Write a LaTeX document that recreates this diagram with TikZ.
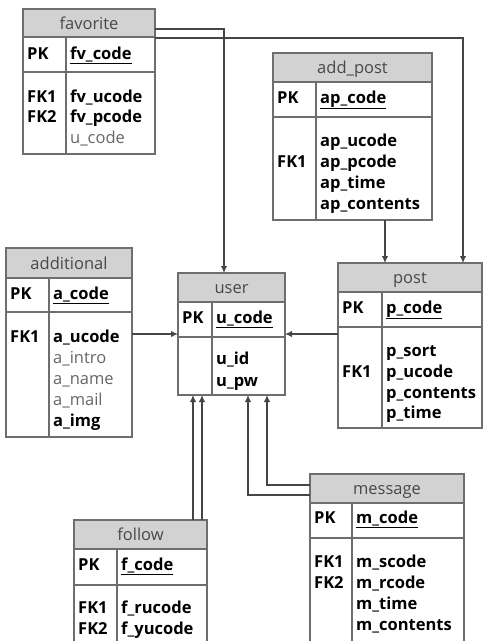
\documentclass[tikz,border=0pt]{standalone}
\usepackage{fontspec}
\setmainfont{Open Sans}
\usetikzlibrary{calc,arrows.meta}

\definecolor{hdrgray}{HTML}{D2D2D2}
\definecolor{framegray}{HTML}{6E6E6E}
\definecolor{titlegray}{HTML}{484848}
\definecolor{optgray}{HTML}{666666}
\definecolor{linegray}{HTML}{454545}

\newcommand{\erfont}{\fontsize{16.5pt}{20pt}\selectfont}

\tikzset{
  box/.style={draw=framegray, line width=1.3pt, inner sep=0pt, outer sep=0pt},
  title/.style={anchor=base, inner sep=0pt, text=titlegray, font=\erfont},
  key/.style={anchor=base west, inner sep=0pt, font=\erfont\bfseries},
  fld/.style={anchor=base west, inner sep=0pt, font=\erfont\bfseries},
  opt/.style={anchor=base west, inner sep=0pt, text=optgray, font=\erfont},
  link/.style={draw=linegray, line width=1.3pt, -{Latex[length=7pt,width=6.5pt]}},
}

% name, left, top, right, header bottom, pk bottom, bottom, divider, title
\newcommand{\ertable}[9]{%
  \fill[hdrgray] (#2,#3) rectangle (#4,#5);
  \node[box, anchor=north west, minimum width={(#4-#2)*1pt},
        minimum height={(#7-#3)*1pt}] (#1) at (#2,#3) {};
  \draw[box] (#2,#5) -- (#4,#5) (#2,#6) -- (#4,#6) (#8,#5) -- (#8,#7);
  \node[title] (#1-t) at ({(#2+#4)/2},{(#3+#5)/2+6}) {#9};
}

\begin{document}
\begin{tikzpicture}[x=1pt,y=-1pt]
   \useasboundingbox (0,0) rectangle (484,641);
   \clip (0,0) rectangle (484,641);

   \ertable{favorite}{23}{9}{155}{37}{72}{154}{66}{favorite}
   \ertable{addpost}{273}{53}{432}{82}{117}{220}{316}{add\_post}
   \ertable{additional}{6}{248}{132}{278}{312}{437}{49}{additional}
   \ertable{user}{178}{273}{285}{302}{337}{395}{212}{user}
   \ertable{post}{338}{263}{482}{292}{327}{428}{382}{post}
   \ertable{follow}{74}{520}{207}{549}{585}{680}{117}{follow}
   \ertable{message}{310}{474}{464}{503}{538}{680}{352}{message}

   % favorite
   \node[key] (favorite-pk) at (27,59) {PK};
   \node[fld] (favorite-f0) at (70,59) {\underline{fv\_code}};
   \node[key] (favorite-k1) at (27,102) {FK1};
   \node[key] (favorite-k2) at (27,122.5) {FK2};
   \foreach \s/\f [count=\i] in {fld/fv\_ucode, fld/fv\_pcode, opt/u\_code}
   \node[\s] (favorite-f\i) at (70,81.5+20.5*\i) {\f};

   % add_post
   \node[key] (addpost-pk) at (277,103) {PK};
   \node[fld] (addpost-f0) at (320,103) {\underline{ap\_code}};
   \node[key] (addpost-k1) at (277,167.5) {FK1};
   \foreach \f [count=\i] in {ap\_ucode, ap\_pcode, ap\_time, ap\_contents}
   \node[fld] (addpost-f\i) at (320,125+21.2*\i) {\f};

   % additional
   \node[key] (additional-pk) at (10,299) {PK};
   \node[fld] (additional-f0) at (53,299) {\underline{a\_code}};
   \node[key] (additional-k1) at (10,342) {FK1};
   \foreach \s/\f [count=\i] in {fld/a\_ucode, opt/a\_intro, opt/a\_name, opt/a\_mail, fld/a\_img}
   \node[\s] (additional-f\i) at (53,321+21*\i) {\f};

   % user
   \node[key] (user-pk) at (182,323) {PK};
   \node[fld] (user-f0) at (216,323) {\underline{u\_code}};
   \foreach \f [count=\i] in {u\_id, u\_pw}
   \node[fld] (user-f\i) at (216,343+21.5*\i) {\f};

   % post
   \node[key] (post-pk) at (342,313) {PK};
   \node[fld] (post-f0) at (386,313) {\underline{p\_code}};
   \node[key] (post-k1) at (342,377) {FK1};
   \foreach \f [count=\i] in {p\_sort, p\_ucode, p\_contents, p\_time}
   \node[fld] (post-f\i) at (386,336+20.7*\i) {\f};

   % follow
   \node[key] (follow-pk) at (78,570) {PK};
   \node[fld] (follow-f0) at (121,570) {\underline{f\_code}};
   \node[key] (follow-k1) at (78,613) {FK1};
   \node[key] (follow-k2) at (78,634) {FK2};
   \foreach \f [count=\i] in {f\_rucode, f\_yucode}
   \node[fld] (follow-f\i) at (121,592+21*\i) {\f};

   % message
   \node[key] (message-pk) at (314,523) {PK};
   \node[fld] (message-f0) at (356,523) {\underline{m\_code}};
   \node[key] (message-k1) at (314,567) {FK1};
   \node[key] (message-k2) at (314,588) {FK2};
   \foreach \f [count=\i] in {m\_scode, m\_rcode, m\_time, m\_contents}
   \node[fld] (message-f\i) at (356,546+21*\i) {\f};

   % relations
   \draw[link] ($(favorite.north east)+(0,20)$) -| ($(user.north west)+(46,0)$);
   \draw[link] ($(favorite.north east)+(0,29)$) -| ($(post.north west)+(125,0)$);
   \draw[link] ($(addpost.south west)+(112,0)$) -- ($(post.north west)+(47,0)$);
   \draw[link] ($(additional.north east)+(0,86)$) -- ($(user.north west)+(0,61)$);
   \draw[link] ($(post.north west)+(0,71)$) -- ($(user.north east)+(0,61)$);
   \draw[link] ($(follow.north west)+(119,0)$) -- ($(user.south west)+(15,0)$);
   \draw[link] ($(follow.north west)+(128,0)$) -- ($(user.south west)+(24,0)$);
   \draw[link] ($(message.north west)+(0,11)$) -| ($(user.south west)+(89,0)$);
   \draw[link] ($(message.north west)+(0,21)$) -| ($(user.south west)+(70,0)$);

\end{tikzpicture}
\end{document}
